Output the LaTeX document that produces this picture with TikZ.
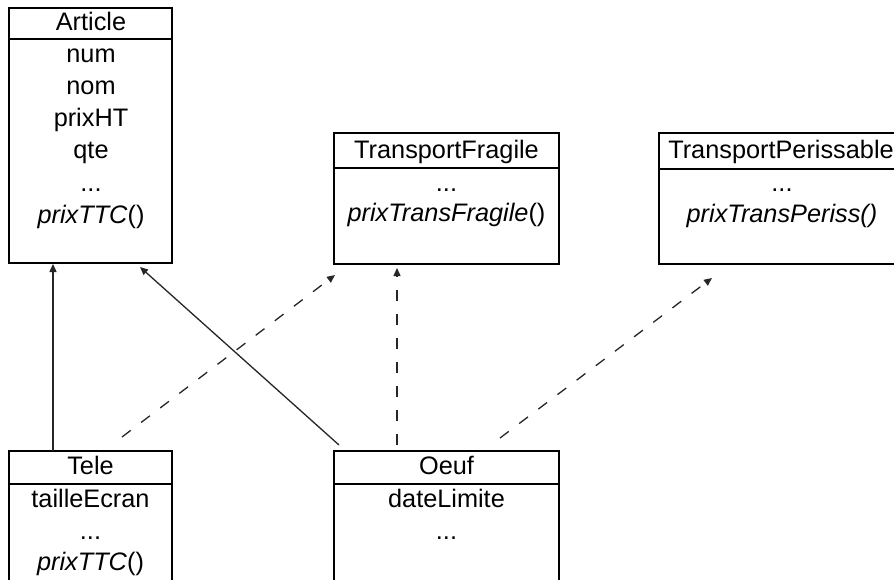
\documentclass[tikz,border=0pt]{standalone}
\usepackage{fontspec}
\setmainfont{Liberation Sans}
\usetikzlibrary{arrows.meta}

\tikzset{
  cls/.style={draw=black, line width=1.6pt, inner sep=0pt, outer sep=0pt,
              anchor=north west, fill=white},
  sep/.style={draw=black, line width=1.3pt},
  txt/.style={anchor=base, inner sep=0pt, font=\fontsize{25.3}{30}\selectfont},
  inh/.style={draw=black!85, line width=1.3pt,
              -{Triangle[length=8pt,width=7pt]}},
  impl/.style={inh, dash pattern=on 11pt off 13pt},
}

\begin{document}
\begin{tikzpicture}[x=1pt,y=-1pt]
\useasboundingbox (0,0) rectangle (894,579);
\clip (0,0) rectangle (894,579);
\fill[white] (0,0) rectangle (894,579);

% class boxes
\node[cls, minimum width=163pt, minimum height=255pt] (article) at (9,8) {};
\node[cls, minimum width=225pt, minimum height=131pt] (tfrag) at (334,133) {};
\node[cls, minimum width=246pt, minimum height=131pt] (tper) at (659,133) {};
\node[cls, minimum width=163pt, minimum height=160pt] (tele) at (9,451) {};
\node[cls, minimum width=225pt, minimum height=160pt] (oeuf) at (334,451) {};

% header separators
\draw[sep] ([yshift=-31pt]article.north west) -- ([yshift=-31pt]article.north east);
\draw[sep] ([yshift=-35pt]tfrag.north west) -- ([yshift=-35pt]tfrag.north east);
\draw[sep] ([yshift=-36pt]tper.north west) -- ([yshift=-36pt]tper.north east);
\draw[sep] ([yshift=-33pt]tele.north west) -- ([yshift=-33pt]tele.north east);
\draw[sep] ([yshift=-33pt]oeuf.north west) -- ([yshift=-33pt]oeuf.north east);

% Article
\node[txt] (a0) at (91,30) {Article};
\node[txt] (a1) at (91,62) {num};
\node[txt] (a2) at (91,94) {nom};
\node[txt] (a3) at (91,126) {prixHT};
\node[txt] (a4) at (91,158) {qte};
\node[txt] (a5) at (91,191) {...};
\node[txt] (a6) at (91,223) {\textit{prixTTC}()};

% TransportFragile
\node[txt] (f0) at (446.5,158) {TransportFragile};
\node[txt] (f1) at (446.5,191) {...};
\node[txt] (f2) at (446.5,221) {\textit{prixTransFragile}()};

% TransportPerissable
\node[txt] (p0) at (781,158) {TransportPerissable};
\node[txt] (p1) at (782,191) {...};
\node[txt] (p2) at (782,222) {\textit{prixTransPeriss()}};

% Tele
\node[txt] (t0) at (90.5,474) {Tele};
\node[txt] (t1) at (90.5,507) {tailleEcran};
\node[txt] (t2) at (90.5,539) {...};
\node[txt] (t3) at (90.5,570) {\textit{prixTTC}()};

% Oeuf
\node[txt] (o0) at (446.5,474) {Oeuf};
\node[txt] (o1) at (446.5,507) {dateLimite};
\node[txt] (o2) at (446.5,539) {...};

% inheritance
\draw[inh] ([xshift=44pt]tele.north west) -- ([xshift=44pt,yshift=-1pt]article.south west);
\draw[inh] ([xshift=5pt,yshift=6pt]oeuf.north west) -- ([xshift=131pt,yshift=-4pt]article.south west);

% interface realisations
\draw[impl] ([xshift=113pt,yshift=14pt]tele.north west) -- ([xshift=1pt,yshift=-11pt]tfrag.south west);
\draw[impl] ([xshift=63pt,yshift=6pt]oeuf.north west) -- ([xshift=63pt,yshift=-4pt]tfrag.south west);
\draw[impl] ([xshift=166pt,yshift=13pt]oeuf.north west) -- ([xshift=53pt,yshift=-14pt]tper.south west);
\end{tikzpicture}
\end{document}
